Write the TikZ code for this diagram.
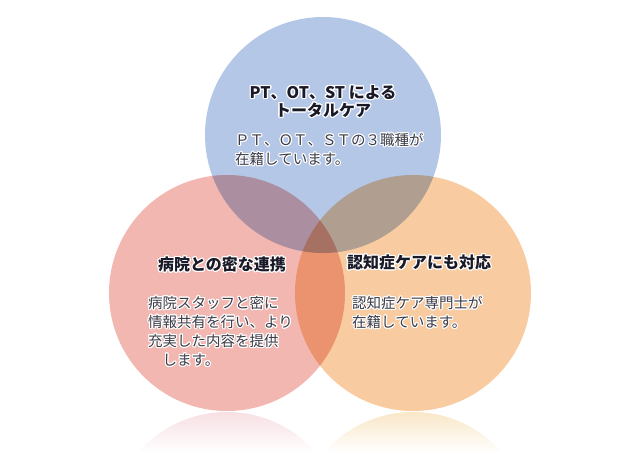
\documentclass[tikz,border=0pt]{standalone}
\usepackage{fontspec}
\setmainfont{Noto Sans CJK JP}
\usepackage[copies]{contour}
\contourlength{1.1pt}
\contournumber{16}
\definecolor{ptblue}{RGB}{181,199,231}
\definecolor{hosppink}{RGB}{242,183,176}
\definecolor{dementorange}{RGB}{248,204,160}
\definecolor{pinkshadow}{RGB}{247,224,228}
\definecolor{orangeshadow}{RGB}{249,231,200}
\definecolor{inktext}{RGB}{25,25,40}
\newcommand{\halo}[1]{\contour{white}{#1}}

\begin{document}
\begin{tikzpicture}[x=1pt,y=-1pt,
  bubble/.style={circle, minimum size=236pt, inner sep=0pt},
  heading/.style={font=\bfseries\fontsize{16}{18}\selectfont, text=inktext, align=center, inner sep=0pt},
  detail/.style={font=\fontsize{14.5}{19}\selectfont, text=inktext!85, align=left, inner sep=0pt, anchor=north west}]
  \useasboundingbox (0,0) rectangle (640,453);
  \begin{scope}
    \clip (227,530) circle (118);
    \shade[top color=pinkshadow, bottom color=white] (100,412) rectangle (360,453);
  \end{scope}
  \begin{scope}
    \clip (413,530) circle (118);
    \shade[top color=orangeshadow, bottom color=white] (290,412) rectangle (540,453);
  \end{scope}
  \begin{scope}[blend group=multiply]
    \node[bubble, fill=ptblue] (team) at (323,135) {};
    \node[bubble, fill=hosppink] (hospital) at (227,293) {};
    \node[bubble, fill=dementorange] (dementia) at (413,293) {};
  \end{scope}
  \node[heading] (teamtitle) at (323,102) {\halo{PT、OT、ST による}\\\halo{トータルケア}};
  \node[detail] (teamtext) at (235,133) {\halo{ＰＴ、ＯＴ、ＳＴの３職種が}\\\halo{在籍しています。}};
  \node[heading] (hosptitle) at (222,265) {\halo{病院との密な連携}};
  \node[detail] (hosptext) at (148,296) {\halo{病院スタッフと密に}\\\halo{情報共有を行い、より}\\\halo{充実した内容を提供}\\\halo{　します。}};
  \node[heading] (demtitle) at (419,263) {\halo{認知症ケアにも対応}};
  \node[detail] (demtext) at (352,296) {\halo{認知症ケア専門士が}\\\halo{在籍しています。}};
\end{tikzpicture}
\end{document}
